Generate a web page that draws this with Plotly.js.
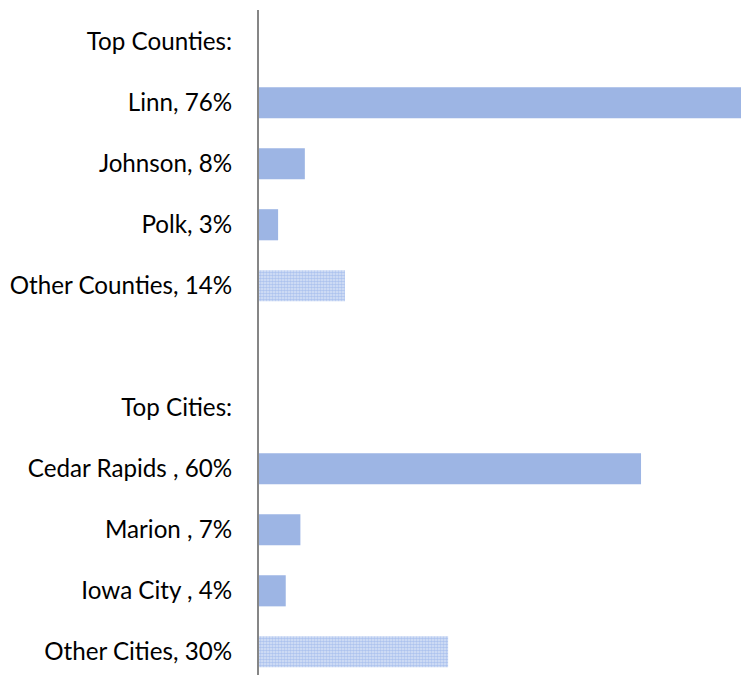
<!DOCTYPE html>
<html><head><meta charset="utf-8">
<script src="https://cdn.plot.ly/plotly-3.0.1.min.js"></script>
<style>html,body{margin:0;padding:0;background:#fff}#chart{width:741px;height:675px}</style>
</head><body><div id="chart"></div>
<script>
const categories = ["Top Counties:", "Linn, 76%", "Johnson, 8%", "Polk, 3%", "Other Counties, 14%", " ", "Top Cities:", "Cedar Rapids , 60%", "Marion , 7%", "Iowa City , 4%", "Other Cities, 30%"];
const shares = [null, 76, 7.2, 3, 13.5, null, null, 60, 6.5, 4.2, 29.7];
const isOther = [false, false, false, false, true, false, false, false, false, false, true];

const solid = '#9db5e4';
const dots = '#adc3ee';

Plotly.newPlot('chart', [{
  type: 'bar',
  orientation: 'h',
  y: categories,
  x: shares,
  width: 0.51,
  marker: {
    color: solid,
    line: {width: 0},
    pattern: {
      shape: isOther.map(o => o ? '.' : ''),
      fgcolor: dots,
      bgcolor: '#dbe5f8',
      size: 3,
      solidity: 0.6,
      fillmode: 'replace'
    }
  },
  hoverinfo: 'skip'
}], {
  width: 741, height: 675,
  margin: {l: 259, r: 0, t: 10, b: 0, pad: 0},
  paper_bgcolor: '#fff', plot_bgcolor: '#fff',
  showlegend: false,
  xaxis: {range: [0, 75.7], visible: false, fixedrange: true},
  yaxis: {
    type: 'category',
    categoryorder: 'array', categoryarray: categories,
    range: [10.38, -0.52], autorange: false,
    showline: true, linecolor: '#868686', linewidth: 2,
    showgrid: false, zeroline: false,
    ticks: '', ticklabelstandoff: 20,
    tickfont: {family: 'Lato, "Open Sans", sans-serif', size: 24.2, color: '#000'},
    fixedrange: true
  }
}, {displayModeBar: false, staticPlot: true});
</script></body></html>
